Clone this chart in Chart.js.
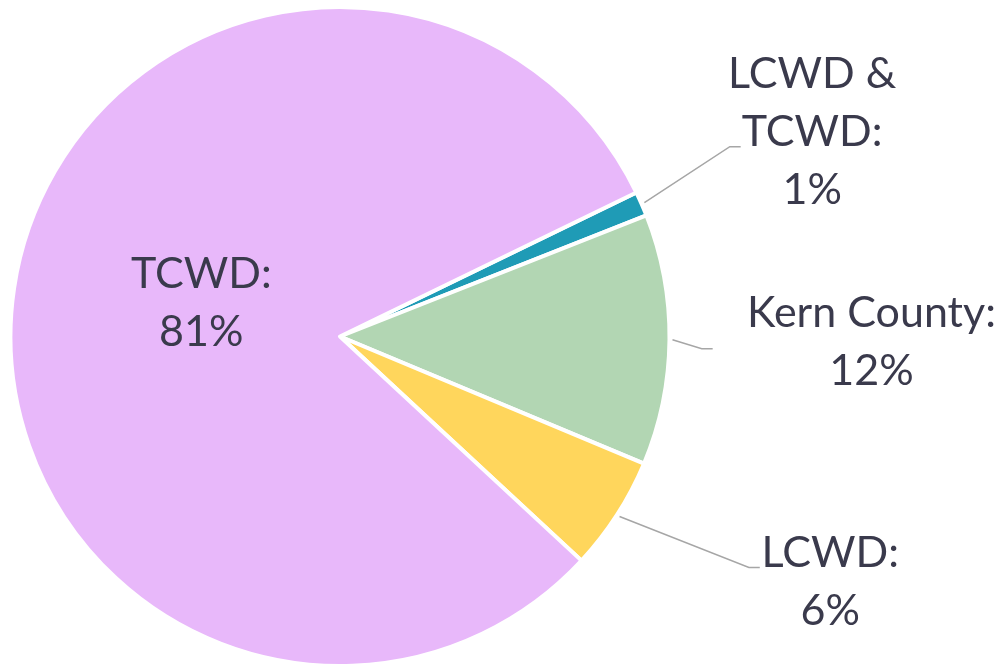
<!DOCTYPE html>
<html>
<head>
<meta charset="utf-8">
<script src="https://cdn.jsdelivr.net/npm/chart.js@4/dist/chart.umd.min.js"></script>
<style>
  html, body { margin: 0; padding: 0; background: #fff; }
  #wrap { width: 1002px; height: 668px; position: relative; }
</style>
</head>
<body>
<div id="wrap"><canvas id="pieCanvas"></canvas></div>
<script>
// slice data, clockwise from the small teal slice
const categories = ["LCWD & TCWD", "Kern County", "LCWD", "TCWD"];
const shares = [1.2, 12.3, 5.6, 80.9];
const sliceColors = ["#1F9BB6", "#B2D6B3", "#FFD65C", "#E8B8FA"];
const labelLines = [["LCWD &", "TCWD:"], ["Kern County:"], ["LCWD:"], ["TCWD:"]];

// label placement, in units of the pie radius from its centre
// [text centre x, first baseline y, elbow x, elbow y, line end x] ; null elbow = no leader
const labelLayout = [
  [1.433, -0.753, 1.183, -0.576, 1.216],
  [1.613, -0.030, 1.098, 0.037, 1.131],
  [1.488, 0.701, 1.241, 0.701, 1.274],
  [-0.421, -0.146, null, null, null],
];

const total = shares.reduce((a, b) => a + b, 0);

const pieLabels = {
  id: "pieLabels",
  afterDatasetsDraw(chart) {
    const ctx = chart.ctx;
    const meta = chart.getDatasetMeta(0);
    ctx.save();
    ctx.font = "43px Lato";
    ctx.textAlign = "center";
    ctx.textBaseline = "alphabetic";
    meta.data.forEach((arc, i) => {
      const { x, y, outerRadius: r, startAngle, endAngle } = arc.getProps(["x", "y", "outerRadius", "startAngle", "endAngle"], true);
      const lay = labelLayout[i];
      if (lay[2] !== null) {
        const mid = (startAngle + endAngle) / 2;
        ctx.strokeStyle = "#A6A6A6";
        ctx.lineWidth = 1.5;
        ctx.beginPath();
        ctx.moveTo(x + Math.cos(mid) * (r + 3), y + Math.sin(mid) * (r + 3));
        ctx.lineTo(x + lay[2] * r, y + lay[3] * r);
        ctx.lineTo(x + lay[4] * r, y + lay[3] * r);
        ctx.stroke();
      }
      const lines = labelLines[i].concat([Math.round(shares[i] / total * 100) + "%"]);
      ctx.fillStyle = "#3A3A4C";
      lines.forEach((t, k) => {
        ctx.fillText(t, x + lay[0] * r, y + lay[1] * r + k * 58);
      });
    });
    ctx.restore();
  }
};

new Chart(document.getElementById("pieCanvas"), {
  type: "pie",
  data: {
    labels: categories,
    datasets: [{
      data: shares,
      backgroundColor: sliceColors,
      borderColor: "#FFFFFF",
      borderWidth: 4,
      borderJoinStyle: "round",
    }],
  },
  options: {
    responsive: true,
    maintainAspectRatio: false,
    animation: false,
    rotation: 64.1,
    layout: { padding: { left: 8, right: 330, top: 5, bottom: 0 } },
    plugins: { legend: { display: false }, tooltip: { enabled: false } },
  },
  plugins: [pieLabels],
});
</script>
</body>
</html>
